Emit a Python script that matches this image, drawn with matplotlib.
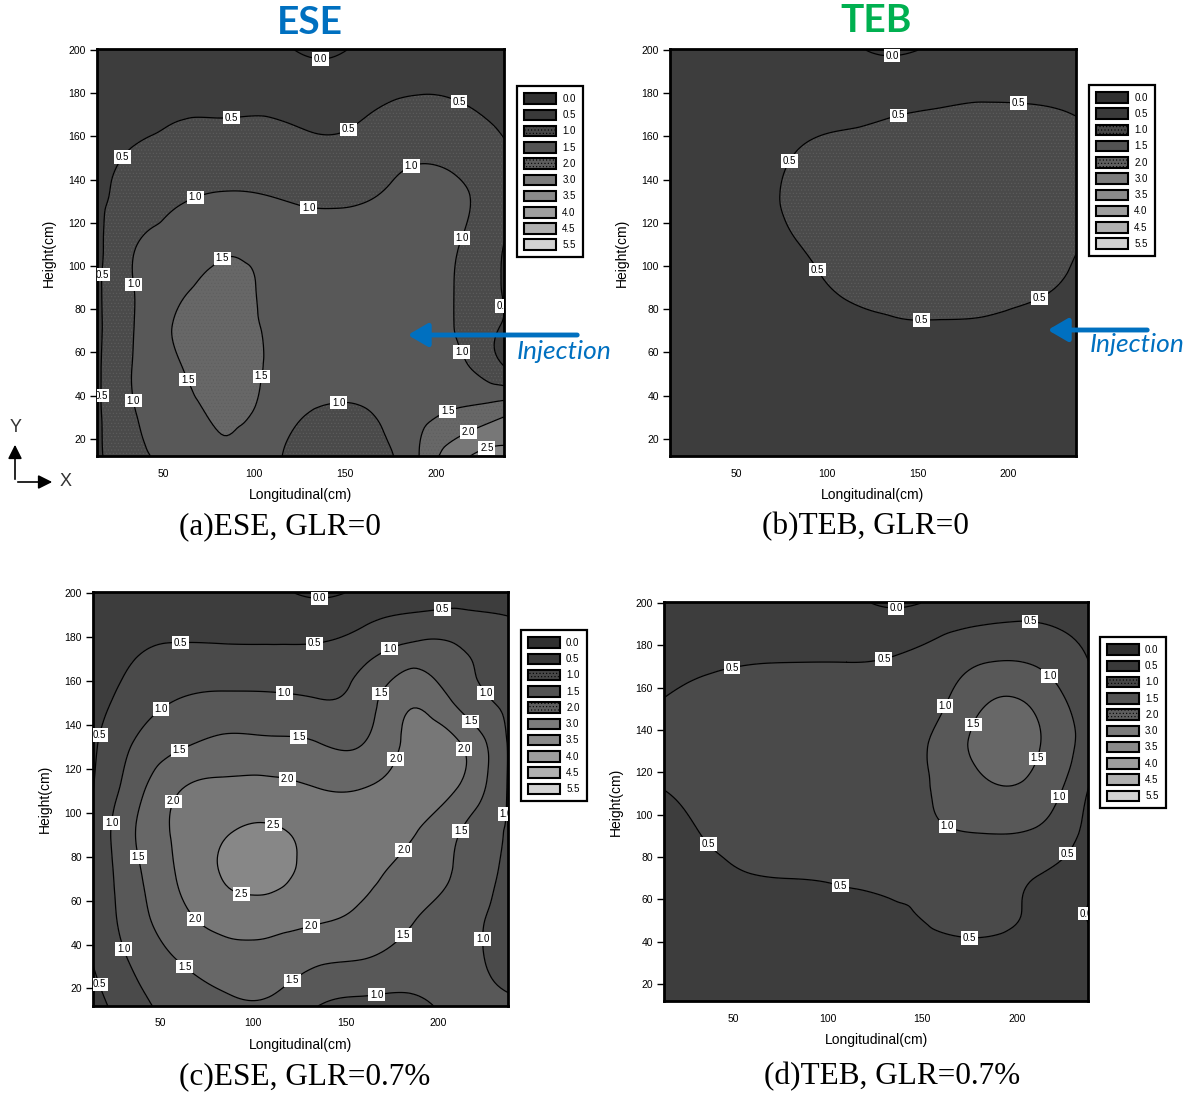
import numpy as np
import matplotlib
matplotlib.use("Agg")
import matplotlib.pyplot as plt
import matplotlib.tri as mtri
from matplotlib.patches import Patch, FancyArrowPatch

plt.rcParams['font.family'] = ['Liberation Sans', 'DejaVu Sans']
plt.rcParams['hatch.color'] = '#5e5e5e'
plt.rcParams['hatch.linewidth'] = 0.4

W, H = 1201, 1095

# sampling grid (cm)
x_nodes = [13, 35, 60, 85, 110, 135, 160, 185, 210, 238]
y_nodes = [12, 32, 52, 72, 92, 112, 132, 152, 172, 200]

# concentration values, rows from bottom (y=12) to top (y=200)
ese_glr0 = [
    [0.40, 0.90, 1.20, 1.45, 1.10, 0.80, 0.80, 1.25, 2.30, 2.60],
    [0.40, 1.00, 1.30, 1.60, 1.30, 0.95, 0.95, 1.30, 1.55, 1.90],
    [0.40, 1.05, 1.48, 1.80, 1.40, 1.30, 1.30, 1.30, 1.15, 0.55],
    [0.40, 1.03, 1.60, 1.75, 1.40, 1.30, 1.30, 1.20, 1.00, 0.45],
    [0.40, 1.03, 1.40, 1.60, 1.40, 1.30, 1.30, 1.25, 1.00, 0.45],
    [0.35, 0.97, 1.20, 1.40, 1.30, 1.25, 1.25, 1.20, 1.05, 0.50],
    [0.40, 0.70, 0.95, 1.05, 1.00, 0.90, 0.95, 1.15, 1.10, 0.70],
    [0.30, 0.55, 0.68, 0.75, 0.72, 0.62, 0.68, 0.90, 0.85, 0.57],
    [0.20, 0.30, 0.45, 0.45, 0.45, 0.35, 0.45, 0.60, 0.56, 0.40],
    [0.25, 0.20, 0.20, 0.15, 0.08, -0.06, 0.08, 0.20, 0.25, 0.25],
]
teb_glr0 = [
    [0.30, 0.30, 0.30, 0.32, 0.33, 0.33, 0.33, 0.33, 0.32, 0.30],
    [0.30, 0.30, 0.32, 0.34, 0.35, 0.36, 0.37, 0.36, 0.35, 0.32],
    [0.30, 0.32, 0.34, 0.36, 0.38, 0.40, 0.41, 0.40, 0.38, 0.35],
    [0.30, 0.32, 0.35, 0.38, 0.42, 0.47, 0.48, 0.47, 0.43, 0.38],
    [0.30, 0.30, 0.35, 0.42, 0.55, 0.60, 0.62, 0.62, 0.57, 0.45],
    [0.28, 0.30, 0.38, 0.51, 0.62, 0.68, 0.70, 0.70, 0.66, 0.53],
    [0.28, 0.30, 0.40, 0.57, 0.65, 0.70, 0.72, 0.72, 0.70, 0.65],
    [0.28, 0.30, 0.35, 0.52, 0.60, 0.63, 0.65, 0.66, 0.65, 0.60],
    [0.30, 0.30, 0.32, 0.35, 0.40, 0.46, 0.51, 0.54, 0.53, 0.48],
    [0.25, 0.22, 0.18, 0.14, 0.08, -0.06, 0.06, 0.12, 0.16, 0.20],
]
ese_glr07 = [
    [0.30, 0.80, 1.20, 1.40, 1.40, 1.00, 0.85, 0.90, 1.10, 1.10],
    [0.50, 1.05, 1.50, 1.75, 1.78, 1.55, 1.46, 1.25, 1.15, 0.80],
    [0.60, 1.25, 1.85, 2.20, 2.20, 2.05, 1.90, 1.55, 1.25, 0.75],
    [0.60, 1.35, 2.05, 2.55, 2.65, 2.30, 2.10, 1.80, 1.45, 0.85],
    [0.55, 1.45, 2.10, 2.45, 2.55, 2.35, 2.25, 2.07, 1.55, 0.95],
    [0.47, 1.25, 1.95, 2.10, 2.12, 1.98, 1.98, 2.20, 2.02, 0.95],
    [0.40, 1.00, 1.40, 1.60, 1.58, 1.50, 1.50, 2.15, 2.05, 0.95],
    [0.28, 0.70, 1.00, 1.09, 1.07, 1.00, 1.25, 1.90, 1.38, 0.90],
    [0.25, 0.47, 0.60, 0.60, 0.60, 0.62, 0.87, 1.24, 1.08, 0.70],
    [0.30, 0.25, 0.20, 0.12, 0.08, -0.06, 0.10, 0.20, 0.25, 0.35],
]
teb_glr07 = [
    [0.25, 0.25, 0.25, 0.27, 0.28, 0.30, 0.30, 0.30, 0.28, 0.25],
    [0.25, 0.27, 0.30, 0.32, 0.34, 0.36, 0.38, 0.38, 0.32, 0.25],
    [0.25, 0.30, 0.35, 0.40, 0.42, 0.45, 0.55, 0.60, 0.42, -0.03],
    [0.30, 0.40, 0.50, 0.52, 0.55, 0.60, 0.65, 0.70, 0.52, 0.25],
    [0.35, 0.52, 0.62, 0.68, 0.70, 0.75, 0.95, 1.02, 0.95, 0.35],
    [0.50, 0.60, 0.68, 0.72, 0.75, 0.82, 1.08, 1.42, 1.34, 0.48],
    [0.60, 0.65, 0.70, 0.75, 0.80, 0.82, 1.15, 1.70, 1.55, 0.75],
    [0.52, 0.60, 0.65, 0.68, 0.70, 0.75, 0.95, 1.52, 1.42, 0.65],
    [0.40, 0.45, 0.49, 0.50, 0.50, 0.55, 0.75, 1.00, 0.95, 0.50],
    [0.30, 0.25, 0.20, 0.15, 0.10, -0.06, 0.10, 0.25, 0.30, 0.30],
]

fill_levels = [-1.0, 0.0, 0.5, 1.0, 1.5, 2.0, 2.5, 3.5]
fill_colors = ['#363636', '#3d3d3d', '#4a4a4a', '#585858', '#676767', '#777777', '#878787']
line_levels = [0.0, 0.5, 1.0, 1.5, 2.0, 2.5]

legend_labels = ['0.0', '0.5', '1.0', '1.5', '2.0', '3.0', '3.5', '4.0', '4.5', '5.5']
legend_colors = ['#303030', '#393939', '#474747', '#535353', '#5e5e5e',
                 '#7c7c7c', '#8a8a8a', '#9e9e9e', '#b0b0b0', '#d2d2d2']

captions = ['(a)ESE, GLR=0', '(b)TEB, GLR=0', '(c)ESE, GLR=0.7%', '(d)TEB, GLR=0.7%']

XLIM = (13.5, 237.5)
YLIM = (12, 200.5)


def px(x, y):
    return x / W, 1 - y / H


def spread_labels(ax, cs, step=115):
    # label points spaced along every contour line, like the original software
    pts = []
    for path in cs.get_paths():
        for poly in path.to_polygons(closed_only=False):
            if len(poly) < 2:
                continue
            d = ax.transData.transform(poly)
            cum = np.concatenate([[0], np.cumsum(np.hypot(*np.diff(d, axis=0).T))])
            L = cum[-1]
            if L < 20:
                continue
            n = max(1, int(L // step))
            for k in range(n):
                s = (k + 0.5) * L / n
                x = np.interp(s, cum, poly[:, 0])
                y = np.interp(s, cum, poly[:, 1])
                if XLIM[0] <= x <= XLIM[1] and YLIM[0] <= y <= YLIM[1]:
                    pts.append((x, y))
    labels = ax.clabel(cs, fmt='%.1f', fontsize=7, inline=False, manual=pts)
    for lab in labels:
        lab.set_rotation(0)
        lab.set_bbox(dict(boxstyle='square,pad=0.18', fc='white', ec='none'))


X, Y = np.meshgrid(np.array(x_nodes, float), np.array(y_nodes, float))
tri = mtri.Triangulation(X.ravel(), Y.ravel())
refiner = mtri.UniformTriRefiner(tri)

fig = plt.figure(figsize=(W / 100, H / 100), dpi=100)

# (left, top, right, bottom) in pixels, legend anchor in axes coords
panels = [
    (ese_glr0, (97, 49, 504, 456), (1.032, 0.909), True),
    (teb_glr0, (670, 49, 1076, 456), (1.032, 0.912), True),
    (ese_glr07, (93, 592, 508, 1006), (1.031, 0.908), False),
    (teb_glr07, (664, 602, 1088, 1001), (1.028, 0.912), False),
]

for grid, (l, t, r, b), anchor, hatched in panels:
    ax = fig.add_axes([l / W, 1 - b / H, (r - l) / W, (b - t) / H])
    ax.set_xlim(*XLIM)
    ax.set_ylim(*YLIM)
    z = np.array(grid, float).ravel()
    interp = mtri.CubicTriInterpolator(tri, z, kind='min_E')
    tri_f, z_f = refiner.refine_field(z, triinterpolator=interp, subdiv=4)
    hatches = [None, None, '.....', None, '.....', None, None] if hatched else [None]
    ax.tricontourf(tri_f, z_f, levels=fill_levels, colors=fill_colors, hatches=hatches)
    cs = ax.tricontour(tri_f, z_f, levels=line_levels, colors='black', linewidths=0.9)
    spread_labels(ax, cs)

    ax.set_xlim(*XLIM)
    ax.set_ylim(*YLIM)
    ax.set_xticks([50, 100, 150, 200])
    ax.set_yticks(list(range(20, 201, 20)))
    ax.tick_params(axis='y', length=5, width=1, labelsize=7.5, pad=3)
    ax.tick_params(axis='x', length=0, labelsize=7.5, pad=9)
    for s in ax.spines.values():
        s.set_linewidth(2)
    ax.set_xlabel('Longitudinal(cm)', fontsize=10, labelpad=7)
    ax.set_ylabel('Height(cm)', fontsize=10, labelpad=9)

    handles = [Patch(facecolor=c, edgecolor='black', linewidth=1.5,
                     hatch='.....' if lab in ('1.0', '2.0') else None)
               for c, lab in zip(legend_colors, legend_labels)]
    leg = ax.legend(handles, legend_labels, loc='upper left', bbox_to_anchor=anchor,
                    fontsize=7, handlelength=3.3, handleheight=1.3, labelspacing=0.58,
                    handletextpad=0.6, borderpad=0.75, borderaxespad=0, fancybox=False,
                    framealpha=1, edgecolor='black')
    leg.get_frame().set_linewidth(1.6)

# captions
for cap, (cx, cy) in zip(captions, [(280, 527), (865, 527), (305, 1077), (892, 1077)]):
    fig.text(*px(cx, cy), cap, ha='center', va='center', fontsize=22.5,
             family=['Liberation Serif', 'DejaVu Serif'])

# column titles
fig.text(*px(310, 22), 'ESE', ha='center', va='center', fontsize=28,
         fontweight='bold', color='#0070c0', family=['Lato', 'DejaVu Sans'])
fig.text(*px(876, 20), 'TEB', ha='center', va='center', fontsize=28,
         fontweight='bold', color='#00b050', family=['Lato', 'DejaVu Sans'])

# injection arrows
for (x0, x1, ya), (tx, ty) in [((580, 405, 335), (564, 352)), ((1150, 1045, 330), (1137, 345))]:
    fig.add_artist(FancyArrowPatch(px(x0, ya), px(x1, ya), transform=fig.transFigure,
                                   arrowstyle='-|>,head_length=0.6,head_width=0.35',
                                   mutation_scale=20, lw=3.5, color='#0070c0'))
    fig.text(*px(tx, ty), 'Injection', ha='center', va='center', fontsize=19,
             style='italic', color='#0070c0', family=['Lato', 'DejaVu Sans'])

# coordinate indicator
for end in [(15, 442), (55, 482)]:
    fig.add_artist(FancyArrowPatch(px(15, 482), px(*end), transform=fig.transFigure,
                                   arrowstyle='-|>,head_length=0.6,head_width=0.3',
                                   mutation_scale=14, lw=1.2, color='black'))
fig.text(*px(16, 427), 'Y', ha='center', va='center', fontsize=13, color='#333333')
fig.text(*px(66, 481), 'X', ha='center', va='center', fontsize=13, color='#333333')

fig.savefig('out.png', dpi=100)
